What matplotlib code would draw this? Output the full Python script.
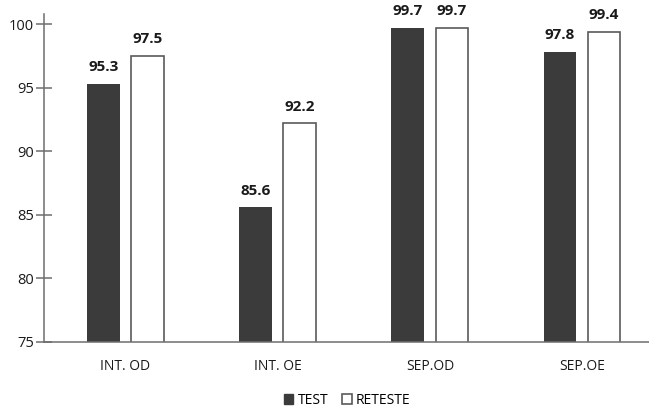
import matplotlib.pyplot as plt
import numpy as np
from matplotlib.patches import Patch

plt.rcParams['font.family'] = ['Open Sans', 'DejaVu Sans']

categories = ['INT. OD', 'INT. OE', 'SEP.OD', 'SEP.OE']
test = [95.3, 85.6, 99.7, 97.8]
reteste = [97.5, 92.2, 99.7, 99.4]
yticks = [75, 80, 85, 90, 95, 100]

dark = '#3b3b3b'
edge = '#5a5a5a'
axis_col = '#6e6e6e'

fig = plt.figure(figsize=(6.49, 4.11), dpi=100)
ax = fig.add_axes([44 / 649, 69 / 411, 1 - 44 / 649, (342 - 14) / 411])

x = np.arange(len(categories))
w = 0.215
off = 0.145
b1 = ax.bar(x - off, test, w, color=dark, edgecolor=dark, linewidth=0)
b2 = ax.bar(x + off, reteste, w, color='white', edgecolor=edge, linewidth=1.2)

for bars, vals in ((b1, test), (b2, reteste)):
    for r, v in zip(bars, vals):
        ax.annotate(f'{v:.1f}', (r.get_x() + r.get_width() / 2, v),
                    xytext=(0, 7), textcoords='offset points',
                    ha='center', va='bottom', fontsize=11, fontweight='bold',
                    color='#1a1a1a')

ax.set_ylim(75, 100.8)
ax.set_xlim(-0.536, 3.44)
ax.set_yticks(yticks)
ax.set_xticks(x)
ax.set_xticklabels(categories)

for s in ('top', 'right'):
    ax.spines[s].set_visible(False)
for s in ('left', 'bottom'):
    ax.spines[s].set_color(axis_col)
    ax.spines[s].set_linewidth(1.1)

ax.tick_params(axis='y', direction='inout', length=12, width=1.1,
               color=axis_col, labelsize=10.5, labelcolor='#1a1a1a', pad=1)
ax.tick_params(axis='x', length=0, labelsize=10, labelcolor='#1a1a1a', pad=12)

handles = [Patch(facecolor=dark, edgecolor=dark, label='TEST'),
           Patch(facecolor='white', edgecolor=edge, linewidth=1.2, label='RETESTE')]
fig.legend(handles=handles, loc='lower center', bbox_to_anchor=(0.535, -0.022),
           ncol=2, frameon=False, fontsize=10, handlelength=0.7, handleheight=0.7,
           handletextpad=0.3, columnspacing=1.0)

fig.savefig('out.png', dpi=100)
